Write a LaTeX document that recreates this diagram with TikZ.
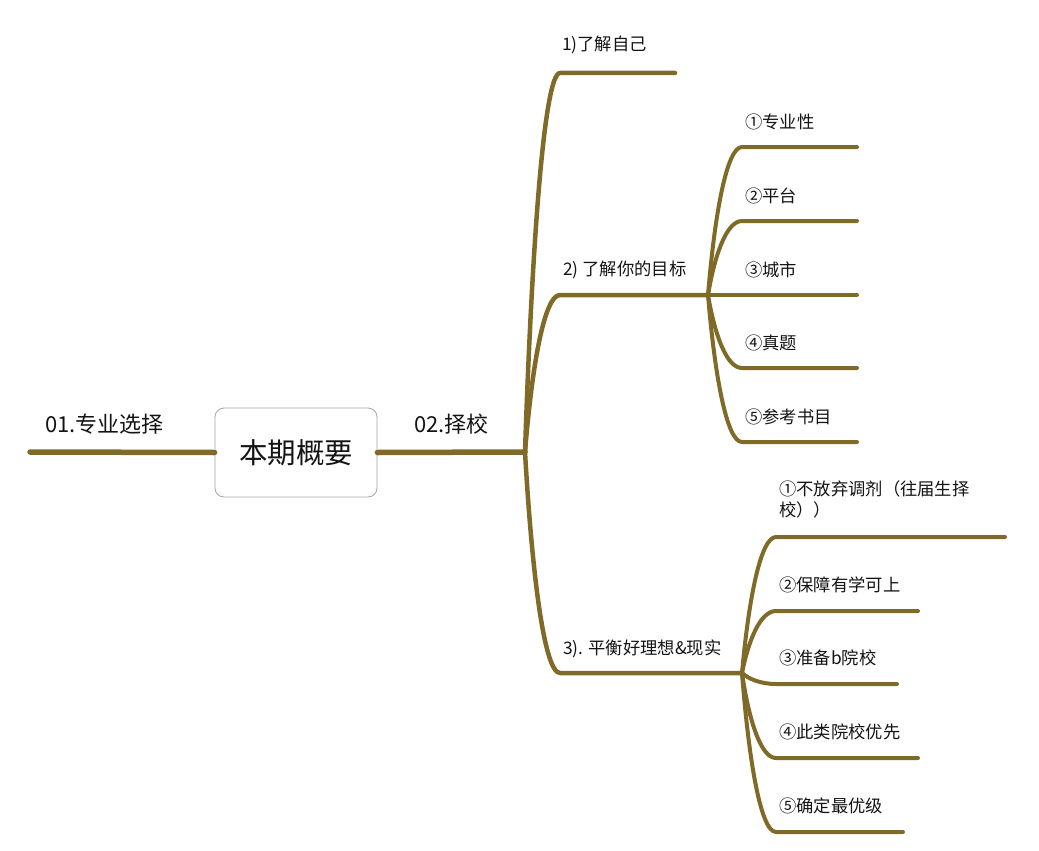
\documentclass[tikz,border=0pt]{standalone}
\usepackage{fontspec}
\setmainfont{Noto Sans CJK SC}
\usetikzlibrary{calc}
\definecolor{branch}{RGB}{128,106,40}
\tikzset{
  x=1pt,y=-1pt,
  br/.style={draw=branch,line width=4pt,line cap=round,line join=round},
  mainbr/.style={draw=branch,line width=5.5pt,line cap=round},
  bcurve/.style={to path={let \p1=(\tikztostart), \p2=(\tikztotarget) in
     .. controls (\x1+0.2*\x2-0.2*\x1, \y1+0.55*\y2-0.55*\y1) and (\x1+0.55*\x2-0.55*\x1, \y2) .. (\tikztotarget)}},
  lbl/.style={anchor=west,inner sep=0pt,font=\fontsize{17.3}{21}\selectfont,text=black!92},
  big/.style={anchor=west,inner sep=0pt,font=\fontsize{22}{26}\selectfont,text=black!92},
}
\begin{document}
\begin{tikzpicture}
\useasboundingbox (0,0) rectangle (1039,851);
\fill[white] (0,0) rectangle (1039,851);
% center
\node[draw=black!35,line width=0.8pt,rounded corners=9pt,fill=white,minimum width=162pt,minimum height=89pt,inner sep=0pt,font=\fontsize{28.5}{32}\selectfont,text=black!92] (c) at (296,452.5) {本期概要};
\coordinate (lend) at (30,452);
\draw[mainbr] (c.west) -- (lend);
\node[big] (l01) at (45,424) {01.专业选择};
\coordinate (J) at (525,452);
\draw[mainbr] (c.east) -- (J);
\node[big] (l02) at (414,424) {02.择校};
% branch 1
\coordinate (b1s) at (560,73); \coordinate (b1e) at (675,73);
\draw[br,line width=4.5pt] (J) to[bcurve] (b1s) -- (b1e);
\node[lbl] (t1) at (562,45) {1)了解自己};
% branch 2
\coordinate (b2s) at (560,295); \coordinate (J2) at (708,295);
\draw[br,line width=4.5pt] (J) to[bcurve] (b2s) -- (J2);
\node[lbl] (t2) at (563,270) {2) 了解你的目标};
% branch 3
\coordinate (b3s) at (560,673); \coordinate (J3) at (742,673);
\draw[br,line width=4.5pt] (J) to[bcurve] (b3s) -- (J3);
\node[lbl] (t3) at (563,649) {3). 平衡好理想\&现实};
% sub of 2
\foreach \k/\yy/\t in {a/147/①专业性, b/221/②平台, c/295/③城市, d/368/④真题, e/442/⑤参考书目}{
  \coordinate (s2\k) at (742,\yy); \coordinate (e2\k) at (857,\yy);
  \draw[br] (J2) to[bcurve] (s2\k) -- (e2\k);
  \node[lbl] (t2\k) at (745,\yy-25) {\t};
}
% sub of 3
\foreach \k/\yy/\ee/\t in {b/611/918/②保障有学可上, c/684/897/③准备b院校, d/758/918/④此类院校优先, e/832/903/⑤确定最优级}{
  \coordinate (s3\k) at (776,\yy); \coordinate (e3\k) at (\ee,\yy);
  \draw[br] (J3) to[bcurve] (s3\k) -- (e3\k);
  \node[lbl] (t3\k) at (779,\yy-26) {\t};
}
\coordinate (s3a) at (776,537); \coordinate (e3a) at (1005,537);
\draw[br] (J3) to[bcurve] (s3a) -- (e3a);
\node[lbl,align=left,anchor=north west] (t3a) at (779,480) {①不放弃调剂（往届生择\\校））};
\end{tikzpicture}
\end{document}
